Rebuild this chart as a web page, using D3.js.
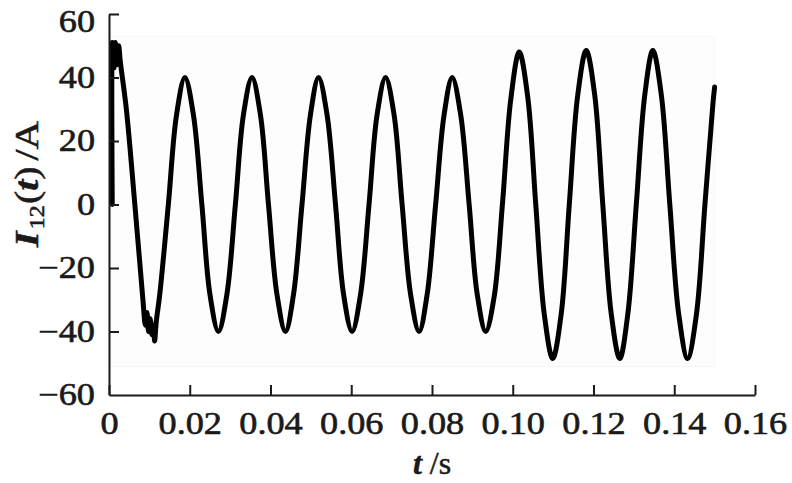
<!DOCTYPE html>
<html>
<head>
<meta charset="utf-8">
<script src="https://cdn.jsdelivr.net/npm/d3@7"></script>
<style>
  html, body { margin: 0; padding: 0; background: #fff; }
  svg { display: block; }
  .tick text { font-family: "Liberation Serif", "Times New Roman", serif; }
</style>
</head>
<body>
<svg id="chart" width="792" height="483"></svg>
<script>
// ---- data ----
const xTicks = [0, 0.02, 0.04, 0.06, 0.08, 0.10, 0.12, 0.14, 0.16];
const xTickLabels = ["0", "0.02", "0.04", "0.06", "0.08", "0.10", "0.12", "0.14", "0.16"];
const yTicks = [-60, -40, -20, 0, 20, 40, 60];
const yTickLabels = ["\u221260", "\u221240", "\u221220", "0", "20", "40", "60"];

const timeS = [
  0.0008, 0.0008, 0.0012, 0.0016, 0.0020, 0.0024, 0.0028,
  0.0043, 0.0064, 0.0084, 0.0090, 0.0094, 0.0098, 0.0102, 0.0106, 0.0110, 0.0113, 0.0117,
  0.0126, 0.0147, 0.0167, 0.0188,
  0.0209, 0.0230, 0.0250, 0.0271, 0.0292, 0.0313, 0.0333, 0.0354,
  0.0375, 0.0395, 0.0416, 0.0437, 0.0457, 0.0478, 0.0499, 0.0519,
  0.0540, 0.0561, 0.0581, 0.0602, 0.0623, 0.0644, 0.0664, 0.0685,
  0.0706, 0.0726, 0.0747, 0.0768, 0.0788, 0.0809, 0.0830, 0.0850,
  0.0871, 0.0892, 0.0912, 0.0933, 0.0954, 0.0975, 0.0995, 0.1016,
  0.1037, 0.1057, 0.1078, 0.1099, 0.1120, 0.1140, 0.1161, 0.1182,
  0.1203, 0.1223, 0.1244, 0.1265, 0.1285, 0.1306, 0.1327, 0.1347,
  0.1368, 0.1389, 0.1411, 0.1433, 0.1455, 0.1476, 0.1496, 0.1500
];
const currentA = [
  0, 51, 43, 51, 44, 50, 45,
  30, 0, -30, -38, -34, -40, -36, -41, -38, -43, -37,
  -28, 0, 28, 40,
  28.3, 0, -28.3, -40, -28.3, 0, 28.3, 40,
  28.3, 0, -28.3, -40, -28.3, 0, 28.3, 40,
  28.3, 0, -28.3, -40, -28.3, 0, 28.3, 40,
  28.3, 0, -28.3, -40, -28.3, 0, 28.3, 40,
  28.3, 0, -28.3, -40, -29, 1, 33, 48,
  34, 0, -34.5, -48.5, -34.5, 0, 34.5, 48.5,
  34.5, 0, -34.5, -48.5, -34.5, 0, 34.5, 48.5,
  34.5, 0, -34.5, -48.5, -34.5, 0, 32, 37
];

// ---- layout ----
const svg = d3.select("#chart");
const x = d3.scaleLinear().domain([0, 0.16]).range([109, 755]);
const y = d3.scaleLinear().domain([-60, 60]).range([395, 14]);
const FS = 31;
const SX = 1.17;

// faint data-area background
svg.append("rect")
  .attr("x", x(0)).attr("y", y(53))
  .attr("width", x(0.15) - x(0)).attr("height", y(-51) - y(53))
  .attr("fill", "#fdfdfd")
  .attr("stroke", "#f6f6f6").attr("stroke-width", 1);

// series
const data = timeS.map((t, i) => ({ t: t, v: currentA[i] }));
const line = d3.line()
  .x(d => x(d.t)).y(d => y(d.v))
  .curve(d3.curveCatmullRom.alpha(0.5));
svg.append("path")
  .datum(data)
  .attr("d", line)
  .attr("fill", "none")
  .attr("stroke", "#000")
  .attr("stroke-width", 5)
  .attr("stroke-linejoin", "round")
  .attr("stroke-linecap", "round");

// axes
const xAxis = d3.axisBottom(x)
  .tickValues(xTicks)
  .tickFormat((d, i) => xTickLabels[i])
  .tickSizeInner(-10).tickSizeOuter(0).tickPadding(17);
const yAxis = d3.axisLeft(y)
  .tickValues(yTicks)
  .tickFormat((d, i) => yTickLabels[i])
  .tickSizeInner(-10).tickSizeOuter(0).tickPadding(14);

const gx = svg.append("g").attr("transform", `translate(0,${y(-60)})`).call(xAxis);
const gy = svg.append("g").attr("transform", `translate(${x(0)},0)`).call(yAxis);

[gx, gy].forEach(g => {
  g.select(".domain").attr("stroke", "#1a1a1a").attr("stroke-width", 2);
  g.selectAll(".tick line").attr("stroke", "#1a1a1a").attr("stroke-width", 2);
  g.selectAll(".tick text")
    .attr("fill", "#1a1a1a")
    .attr("stroke", "#1a1a1a")
    .attr("stroke-width", 0.6)
    .style("font-size", FS + "px");
});
gx.selectAll(".tick text").attr("transform", `scale(${SX},1)`).attr("x", 0);
gy.selectAll(".tick text").attr("transform", `scale(${SX},1)`).attr("x", -14 / SX);
// top label: keep its box inside the picture
gy.selectAll(".tick").filter(d => d === 60).select("text").attr("dy", "0.55em");
gy.select(".tick:first-of-type line").remove();

// axis titles
const xt = svg.append("text")
  .attr("x", 432).attr("y", 474)
  .attr("text-anchor", "middle")
  .style("font-family", "'Liberation Serif', serif")
  .style("font-size", "32px")
  .attr("fill", "#1a1a1a").attr("stroke", "#1a1a1a").attr("stroke-width", 0.5);
xt.append("tspan").style("font-style", "italic").style("font-weight", "bold").text("t");
xt.append("tspan").text(" /s");

const yt = svg.append("text")
  .attr("transform", "translate(38,184) rotate(-90) scale(1.2,1)")
  .attr("text-anchor", "middle")
  .style("font-family", "'Liberation Serif', serif")
  .style("font-size", "33px")
  .attr("fill", "#1a1a1a").attr("stroke", "#1a1a1a").attr("stroke-width", 0.5);
yt.append("tspan").style("font-style", "italic").style("font-weight", "bold").text("I");
yt.append("tspan").attr("dy", 6).attr("dx", 2).style("font-size", "20px").text("12");
yt.append("tspan").attr("dy", -6).attr("dx", 1).text("(");
yt.append("tspan").style("font-style", "italic").style("font-weight", "bold").text("t");
yt.append("tspan").text(")");
yt.append("tspan").attr("dx", 5).text("/A");
</script>
</body>
</html>
